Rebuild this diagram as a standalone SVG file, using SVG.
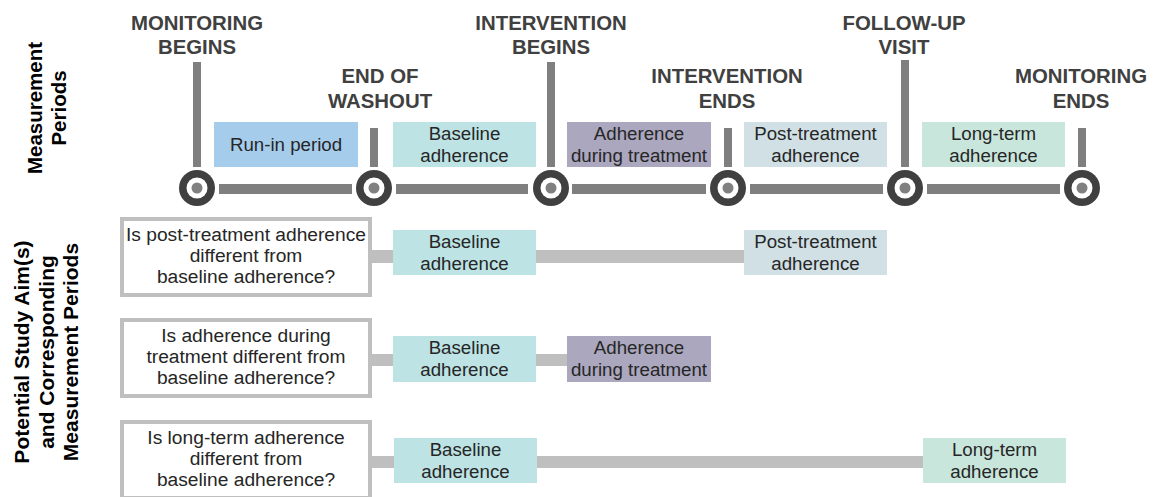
<svg xmlns="http://www.w3.org/2000/svg" width="1154" height="497" viewBox="0 0 1154 497">
<style>
.hdr{font-family:"Liberation Sans",Arial,sans-serif;font-weight:bold;font-size:20.4px;fill:#404040;text-anchor:middle}
.side{font-family:"Liberation Sans",Arial,sans-serif;font-weight:bold;font-size:20.5px;fill:#000;text-anchor:middle}
.side2{font-family:"Liberation Sans",Arial,sans-serif;font-weight:bold;font-size:21px;fill:#000;text-anchor:middle}
.lbl{font-family:"Liberation Sans",Arial,sans-serif;font-size:18.7px;fill:#262626;text-anchor:middle}
.q{font-family:"Liberation Sans",Arial,sans-serif;font-size:19.2px;fill:#262626;text-anchor:middle}
.tick{fill:#7f7f7f}
.bar{fill:#7f7f7f}
.conn{fill:#bfbfbf}
.qbox{fill:#fff;stroke:#bfbfbf;stroke-width:4}
.runin{fill:#a6cceb}
.base{fill:#bde3e5}
.during{fill:#aaa7be}
.post{fill:#d0e0e4}
.long{fill:#c9e6dc}
</style>
<defs>
<g id="milestone">
<circle r="18" fill="#404040"/>
<circle r="10.5" fill="#fff"/>
<circle r="5.5" fill="#808080"/>
</g>
</defs>
<rect width="1154" height="497" fill="#fff"/>

<g id="side-labels">
<text class="side" transform="translate(42,108) rotate(-90)">Measurement</text>
<text class="side" transform="translate(66,108) rotate(-90)">Periods</text>
<text class="side2" transform="translate(29,352) rotate(-90)">Potential Study Aim(s)</text>
<text class="side2" transform="translate(54,352) rotate(-90)">and Corresponding</text>
<text class="side2" transform="translate(78,352) rotate(-90)">Measurement Periods</text>
</g>

<g id="connectors">
<rect class="bar" x="219" y="184" width="133" height="10"/>
<rect class="bar" x="396" y="184" width="132" height="10"/>
<rect class="bar" x="572" y="184" width="134" height="10"/>
<rect class="bar" x="750" y="184" width="133" height="10"/>
<rect class="bar" x="927" y="184" width="133" height="10"/>
<rect class="tick" x="193" y="62" width="8" height="105"/>
<rect class="tick" x="370" y="128" width="8" height="39"/>
<rect class="tick" x="547" y="62" width="8" height="105"/>
<rect class="tick" x="724" y="128" width="8" height="39"/>
<rect class="tick" x="901" y="60" width="8" height="107"/>
<rect class="tick" x="1078" y="128" width="8" height="39"/>
<rect class="conn" x="370" y="250" width="24" height="13"/>
<rect class="conn" x="536" y="250" width="208" height="13"/>
<rect class="conn" x="370" y="354" width="24" height="12"/>
<rect class="conn" x="536" y="354" width="31" height="12"/>
<rect class="conn" x="370" y="456" width="24" height="12"/>
<rect class="conn" x="537" y="456" width="386" height="12"/>
</g>

<g id="milestones">
<g id="m-monitoring-begins"><use href="#milestone" x="197" y="188"/><text class="hdr" x="197" y="30">MONITORING</text><text class="hdr" x="197" y="54">BEGINS</text></g>
<g id="m-end-washout"><use href="#milestone" x="374" y="188"/><text class="hdr" x="380" y="83">END OF</text><text class="hdr" x="380" y="108">WASHOUT</text></g>
<g id="m-intervention-begins"><use href="#milestone" x="551" y="188"/><text class="hdr" x="551" y="30">INTERVENTION</text><text class="hdr" x="551" y="54">BEGINS</text></g>
<g id="m-intervention-ends"><use href="#milestone" x="728" y="188"/><text class="hdr" x="727" y="83">INTERVENTION</text><text class="hdr" x="727" y="108">ENDS</text></g>
<g id="m-follow-up"><use href="#milestone" x="905" y="188"/><text class="hdr" x="904" y="30">FOLLOW-UP</text><text class="hdr" x="904" y="54">VISIT</text></g>
<g id="m-monitoring-ends"><use href="#milestone" x="1082" y="188"/><text class="hdr" x="1081" y="83">MONITORING</text><text class="hdr" x="1081" y="108">ENDS</text></g>
</g>

<g id="period-runin"><rect class="runin" x="214" y="122" width="144" height="45"/><text class="lbl" x="286" y="151">Run-in period</text></g>
<g id="period-baseline"><rect class="base" x="393" y="122" width="143" height="45"/><text class="lbl" x="464.5" y="140">Baseline</text><text class="lbl" x="464.5" y="162">adherence</text></g>
<g id="period-during"><rect class="during" x="567" y="122" width="144" height="45"/><text class="lbl" x="639" y="140">Adherence</text><text class="lbl" x="639" y="162">during treatment</text></g>
<g id="period-post"><rect class="post" x="744" y="122" width="143" height="45"/><text class="lbl" x="815.5" y="140">Post-treatment</text><text class="lbl" x="815.5" y="162">adherence</text></g>
<g id="period-long"><rect class="long" x="922" y="122" width="143" height="45"/><text class="lbl" x="993.5" y="140">Long-term</text><text class="lbl" x="993.5" y="162">adherence</text></g>

<g id="aim1">
<rect class="qbox" x="122" y="219" width="248" height="76"/>
<text class="q" x="246" y="241">Is post-treatment adherence</text>
<text class="q" x="246" y="262">different from</text>
<text class="q" x="246" y="283">baseline adherence?</text>
</g>
<g id="aim1-baseline"><rect class="base" x="393" y="230" width="143" height="45"/><text class="lbl" x="464.5" y="248">Baseline</text><text class="lbl" x="464.5" y="270">adherence</text></g>
<g id="aim1-post"><rect class="post" x="744" y="230" width="143" height="45"/><text class="lbl" x="815.5" y="248">Post-treatment</text><text class="lbl" x="815.5" y="270">adherence</text></g>

<g id="aim2">
<rect class="qbox" x="122" y="320" width="248" height="76"/>
<text class="q" x="246" y="342">Is adherence during</text>
<text class="q" x="246" y="363">treatment different from</text>
<text class="q" x="246" y="384">baseline adherence?</text>
</g>
<g id="aim2-baseline"><rect class="base" x="393" y="336" width="143" height="46"/><text class="lbl" x="464.5" y="354">Baseline</text><text class="lbl" x="464.5" y="376">adherence</text></g>
<g id="aim2-during"><rect class="during" x="567" y="336" width="144" height="46"/><text class="lbl" x="639" y="354">Adherence</text><text class="lbl" x="639" y="376">during treatment</text></g>

<g id="aim3">
<rect class="qbox" x="122" y="422" width="248" height="76"/>
<text class="q" x="246" y="444">Is long-term adherence</text>
<text class="q" x="246" y="465">different from</text>
<text class="q" x="246" y="486">baseline adherence?</text>
</g>
<g id="aim3-baseline"><rect class="base" x="394" y="438" width="143" height="45"/><text class="lbl" x="465.5" y="456">Baseline</text><text class="lbl" x="465.5" y="478">adherence</text></g>
<g id="aim3-long"><rect class="long" x="923" y="438" width="143" height="45"/><text class="lbl" x="994.5" y="456">Long-term</text><text class="lbl" x="994.5" y="478">adherence</text></g>
</svg>
